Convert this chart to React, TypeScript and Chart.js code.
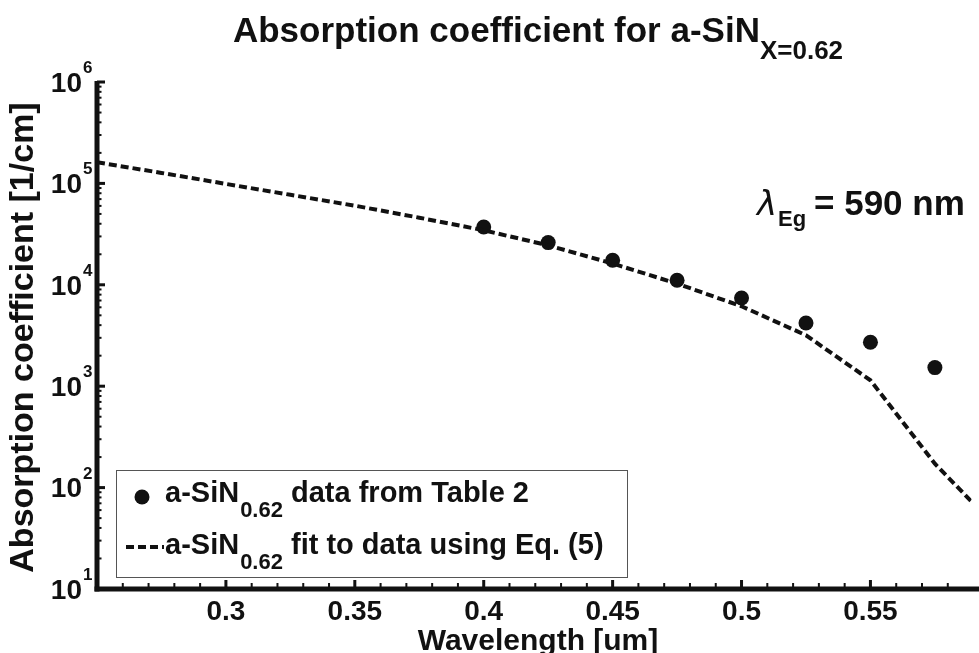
import React, { useEffect, useRef } from "react";
import { Chart, registerables } from "chart.js";

Chart.register(...registerables);

// ---- data ----
const fitWavelength = [0.25, 0.275, 0.3, 0.325, 0.35, 0.375, 0.4, 0.425, 0.45, 0.475, 0.5, 0.525, 0.55, 0.575, 0.6];
const fitAbsorption = [161600, 126900, 98900, 77200, 60300, 45900, 34500, 24500, 16200, 10270, 6140, 3180, 1144, 172, 38];
const dataWavelength = [0.4, 0.425, 0.45, 0.475, 0.5, 0.525, 0.55, 0.575];
const dataAbsorption = [37150, 26080, 17440, 11080, 7410, 4200, 2710, 1526];
const xTickValues = [0.3, 0.35, 0.4, 0.45, 0.5, 0.55];
const xTickLabels = ["0.3", "0.35", "0.4", "0.45", "0.5", "0.55"];
const yDecades = [1, 2, 3, 4, 5, 6];
const titleMain = "Absorption coefficient for a-SiN";
const titleSub = "X=0.62";
const xTitle = "Wavelength [um]";
const yTitle = "Absorption coefficient [1/cm]";
const legendMain = ["a-SiN", "a-SiN"];
const legendSub = ["0.62", "0.62"];
const legendRest = [" data from Table 2", " fit to data using Eq. (5)"];
const noteSymbol = "λ";
const noteSub = "Eg";
const noteRest = "= 590 nm";

const INK = "#111111";
const FF = "'Liberation Sans', Arial, Helvetica, sans-serif";

function txt(ctx: CanvasRenderingContext2D, s: string, x: number, y: number, font: string, align: CanvasTextAlign = "left", base: CanvasTextBaseline = "alphabetic") {
  ctx.font = font;
  ctx.textAlign = align;
  ctx.textBaseline = base;
  ctx.fillText(s, x, y);
  return ctx.measureText(s).width;
}

const decorPlugin = {
  id: "decor",
  afterDraw(chart: any) {
    const ctx: CanvasRenderingContext2D = chart.ctx;
    const xs = chart.scales.x;
    const ys = chart.scales.y;
    const left = xs.getPixelForValue(xs.min);
    const right = chart.width;
    const top = ys.getPixelForValue(ys.max);
    const bottom = ys.getPixelForValue(ys.min);
    ctx.save();
    ctx.fillStyle = INK;
    ctx.strokeStyle = INK;

    // spines
    ctx.fillRect(left - 2.5, top - 1, 5, bottom - top + 3.5);
    ctx.fillRect(left - 2.5, bottom - 2.5, right - left + 2.5, 5);

    // y ticks (inward)
    yDecades.forEach((d) => {
      const y = ys.getPixelForValue(Math.pow(10, d));
      ctx.fillRect(left, y - 1.5, 8, 3);
      if (d < 6) {
        for (let m = 2; m <= 9; m++) {
          const ym = ys.getPixelForValue(m * Math.pow(10, d));
          ctx.fillRect(left, ym - 1, 4.5, 2);
        }
      }
    });
    // x ticks (inward)
    for (let i = 26; i <= 58; i++) {
      const v = i / 100;
      const x = xs.getPixelForValue(v);
      if (i % 5 === 0) ctx.fillRect(x - 1.5, bottom - 9, 3, 9);
      else ctx.fillRect(x - 1, bottom - 6, 2, 6);
    }

    // y tick labels
    yDecades.forEach((d) => {
      const y = ys.getPixelForValue(Math.pow(10, d));
      txt(ctx, "10", 82, y + 2, `bold 28px ${FF}`, "right", "middle");
      txt(ctx, String(d), 83, y - 9, `bold 17px ${FF}`, "left", "alphabetic");
    });
    // x tick labels
    xTickValues.forEach((v, i) => {
      txt(ctx, xTickLabels[i], xs.getPixelForValue(v), 620, `bold 28px ${FF}`, "center", "alphabetic");
    });

    // axis titles
    txt(ctx, xTitle, (left + right) / 2, 650, `bold 30px ${FF}`, "center", "alphabetic");
    ctx.save();
    ctx.translate(33, (top + bottom) / 2 + 2);
    ctx.rotate(-Math.PI / 2);
    txt(ctx, yTitle, 0, 0, `bold 34px ${FF}`, "center", "alphabetic");
    ctx.restore();

    // title
    ctx.font = `bold 35px ${FF}`;
    const wm = ctx.measureText(titleMain).width;
    ctx.font = `bold 26px ${FF}`;
    const ws = ctx.measureText(titleSub).width;
    const tx = (left + right) / 2 - (wm + ws) / 2;
    txt(ctx, titleMain, tx, 42, `bold 35px ${FF}`);
    txt(ctx, titleSub, tx + wm, 59, `bold 26px ${FF}`);

    // annotation
    txt(ctx, noteSymbol, 757, 215, `italic 34px 'DejaVu Sans', sans-serif`);
    txt(ctx, noteSub, 778, 226, `bold 22px ${FF}`);
    txt(ctx, noteRest, 814, 215, `bold 35px ${FF}`);

    // legend
    ctx.fillStyle = "#ffffff";
    ctx.fillRect(116, 470, 512, 108);
    ctx.lineWidth = 1;
    ctx.strokeStyle = "#555555";
    ctx.strokeRect(116.5, 470.5, 511, 107);
    ctx.fillStyle = INK;
    ctx.beginPath();
    ctx.arc(142, 497, 7.5, 0, Math.PI * 2);
    ctx.fill();
    ctx.save();
    ctx.strokeStyle = INK;
    ctx.lineWidth = 4;
    ctx.setLineDash([8, 4]);
    ctx.beginPath();
    ctx.moveTo(126, 547);
    ctx.lineTo(164, 547);
    ctx.stroke();
    ctx.restore();
    const rows = [502, 554];
    rows.forEach((by, i) => {
      let x = 165;
      x += txt(ctx, legendMain[i], x, by, `bold 29px ${FF}`);
      x += txt(ctx, legendSub[i], x + 1, by + 15, `bold 22px ${FF}`) + 1;
      txt(ctx, legendRest[i], x, by, `bold 29px ${FF}`);
    });

    ctx.restore();
  },
};

export default function App() {
  const ref = useRef<HTMLCanvasElement | null>(null);
  useEffect(() => {
    if (!ref.current) return;
    const chart = new Chart(ref.current, {
      type: "scatter",
      data: {
        datasets: [
          {
            label: "fit",
            data: fitWavelength.map((x, i) => ({ x, y: fitAbsorption[i] })),
            showLine: true,
            borderColor: INK,
            borderWidth: 4,
            borderDash: [8, 4],
            pointRadius: 0,
            tension: 0,
          },
          {
            label: "data",
            data: dataWavelength.map((x, i) => ({ x, y: dataAbsorption[i] })),
            showLine: false,
            pointRadius: 7.5,
            pointBackgroundColor: INK,
            pointBorderWidth: 0,
            borderColor: INK,
            backgroundColor: INK,
          },
        ],
      },
      options: {
        animation: false,
        responsive: false,
        devicePixelRatio: 1,
        layout: { padding: { left: 97, right: 0, top: 82, bottom: 64 } },
        scales: {
          x: { type: "linear", min: 0.25, max: 0.5892, display: false },
          y: { type: "logarithmic", min: 10, max: 1e6, display: false },
        },
        plugins: { legend: { display: false }, title: { display: false }, tooltip: { enabled: false } },
      },
      plugins: [decorPlugin],
    });
    return () => chart.destroy();
  }, []);
  return (
    <div style={{ position: "absolute", left: 0, top: 0, width: 979, height: 653, background: "#fff" }}>
      <canvas ref={ref} width={979} height={653} />
    </div>
  );
}
